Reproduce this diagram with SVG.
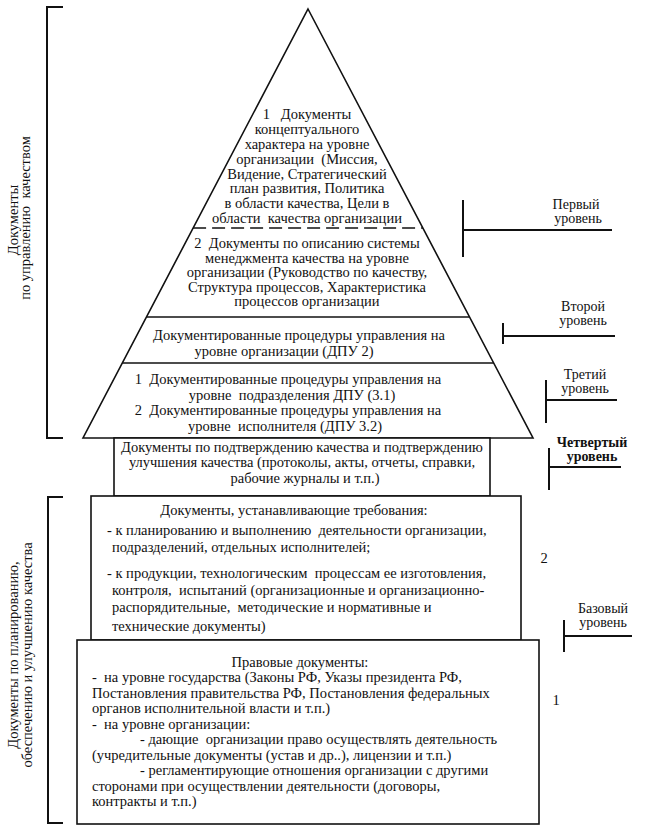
<svg xmlns="http://www.w3.org/2000/svg" width="648" height="831" viewBox="0 0 648 831">
<style>
  .t { font-family: "Liberation Serif", "Times New Roman", serif; font-size: 14.5px; fill: #111; white-space: pre; }
  .m { text-anchor: middle; }
  .lbl { font-family: "Liberation Serif", "Times New Roman", serif; font-size: 14px; fill: #111; text-anchor: middle; }
  .b { font-weight: bold; }
  .ln { stroke: #111; stroke-width: 1.6; fill: none; }
  .br { stroke: #111; stroke-width: 2; fill: none; }
  .box { stroke: #111; stroke-width: 1.6; fill: #fff; }
</style>
<rect width="648" height="831" fill="#fff"/>

<g id="pyramid">
  <polygon class="ln" points="308,9 533,438 83,438"/>
  <line class="ln" x1="193.1" y1="228" x2="422.9" y2="228" stroke-dasharray="13 6"/>
  <line class="ln" x1="146.5" y1="317" x2="469.5" y2="317"/>
  <line class="ln" x1="122.3" y1="363" x2="493.7" y2="363"/>
</g>

<g id="node-concept">
  <text class="t m" x="307" y="119">1   Документы</text>
  <text class="t m" x="307" y="134">концептуального</text>
  <text class="t m" x="307" y="148.5">характера на уровне</text>
  <text class="t m" x="307" y="163.5">организации  (Миссия,</text>
  <text class="t m" x="307" y="178.5">Видение, Стратегический</text>
  <text class="t m" x="307" y="193">план развития, Политика</text>
  <text class="t m" x="307" y="208">в области качества, Цели в</text>
  <text class="t m" x="307" y="222.5">области  качества организации</text>
</g>

<g id="node-qms">
  <text class="t m" x="307" y="248">2  Документы по описанию системы</text>
  <text class="t m" x="307" y="262.5">менеджмента качества на уровне</text>
  <text class="t m" x="307" y="277">организации (Руководство по качеству,</text>
  <text class="t m" x="307" y="291.5">Структура процессов, Характеристика</text>
  <text class="t m" x="307" y="306">процессов организации</text>
</g>

<g id="node-dpu2">
  <text class="t m" x="299" y="340">Документированные процедуры управления на</text>
  <text class="t m" x="284" y="356">уровне организации (ДПУ 2)</text>
</g>

<g id="node-dpu3">
  <text class="t m" x="288" y="384">1  Документированные процедуры управления на</text>
  <text class="t m" x="292" y="400">уровне  подразделения ДПУ (3.1)</text>
  <text class="t m" x="288" y="415">2  Документированные процедуры управления на</text>
  <text class="t m" x="285" y="431">уровне  исполнителя (ДПУ 3.2)</text>
</g>

<g id="node-records">
  <rect class="box" x="114" y="438" width="376" height="58"/>
  <text class="t m" x="302" y="452">Документы по подтверждению качества и подтверждению</text>
  <text class="t m" x="302" y="467">улучшения качества (протоколы, акты, отчеты, справки,</text>
  <text class="t m" x="305" y="483">рабочие журналы и т.п.)</text>
</g>

<g id="node-requirements">
  <rect class="box" x="91" y="496" width="430" height="144"/>
  <text class="t m" x="294" y="515">Документы, устанавливающие требования:</text>
  <text class="t" x="107" y="535">- к планированию и выполнению  деятельности организации,</text>
  <text class="t" x="112" y="552">подразделений, отдельных исполнителей;</text>
  <text class="t" x="107" y="578">- к продукции, технологическим  процессам ее изготовления,</text>
  <text class="t" x="112" y="595">контроля,  испытаний (организационные и организационно-</text>
  <text class="t" x="112" y="612">распорядительные,  методические и нормативные и</text>
  <text class="t" x="112" y="631">технические документы)</text>
</g>

<g id="node-legal">
  <rect class="box" x="77" y="640" width="462" height="184"/>
  <text class="t m" x="300" y="666.5">Правовые документы:</text>
  <text class="t" x="92" y="682">-  на уровне государства (Законы РФ, Указы президента РФ,</text>
  <text class="t" x="92" y="697.5">Постановления правительства РФ, Постановления федеральных</text>
  <text class="t" x="92" y="713">органов исполнительной власти и т.п.)</text>
  <text class="t" x="92" y="728.5">-  на уровне организации:</text>
  <text class="t" x="140" y="744">- дающие  организации право осуществлять деятельность</text>
  <text class="t" x="92" y="759.5">(учредительные документы (устав и др..), лицензии и т.п.)</text>
  <text class="t" x="140" y="775">- регламентирующие отношения организации с другими</text>
  <text class="t" x="92" y="790.5">сторонами при осуществлении деятельности (договоры,</text>
  <text class="t" x="92" y="806">контракты и т.п.)</text>
</g>

<g id="group-management">
  <text class="t m" transform="translate(18,220) rotate(-90)">Документы</text>
  <text class="t m" transform="translate(30,218) rotate(-90)">по управлению  качеством</text>
</g>

<g id="group-planning">
  <text class="t m" transform="translate(18,655) rotate(-90)">Документы по планированию,</text>
  <text class="t m" transform="translate(32,655) rotate(-90)">обеспечению и улучшению качества</text>
</g>

<g id="level-labels">
  <text class="lbl" x="576" y="209">Первый</text>
  <text class="lbl" x="578" y="223">уровень</text>
  <text class="lbl" x="583" y="311">Второй</text>
  <text class="lbl" x="583" y="325">уровень</text>
  <text class="lbl" x="585" y="379">Третий</text>
  <text class="lbl" x="585" y="393">уровень</text>
  <text class="lbl b" x="592" y="447">Четвертый</text>
  <text class="lbl b" x="592" y="461">уровень</text>
  <text class="lbl" x="603" y="613">Базовый</text>
  <text class="lbl" x="603" y="627">уровень</text>
  <text class="t m" x="544" y="563">2</text>
  <text class="t m" x="556" y="705">1</text>
</g>

<g id="connectors">
  <path class="br" d="M63,7 H47 V438 H63"/>
  <path class="br" d="M63,497 H48 V823 H63"/>
  <path class="br" d="M463,200 V257 M463,230 H612"/>
  <path class="br" d="M503,323 V344 M503,336 H615"/>
  <path class="br" d="M546,380 V423 M546,400 H617"/>
  <path class="br" d="M549,448 V490 M549,467 H621"/>
  <path class="br" d="M564,620 V652 M564,636 H632"/>
</g>
</svg>
